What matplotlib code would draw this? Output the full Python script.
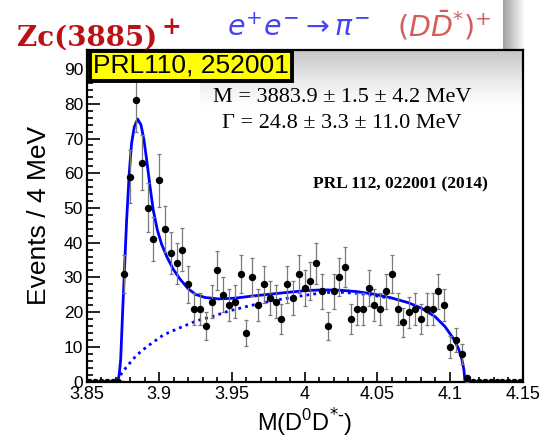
import numpy as np
import matplotlib
matplotlib.use("Agg")
import matplotlib.pyplot as plt
from matplotlib.ticker import MultipleLocator

plt.rcParams['font.family'] = ['Liberation Sans', 'DejaVu Sans']

W, H = 543, 438

# histogram: 4 MeV bins from 3.85 GeV
bin_lo = 3.85
bin_w = 0.004
counts = [0, 0, 0, 0, 0, 0,
          31, 59, 81, 63, 50, 41, 58, 44, 37, 34, 38, 28,
          21, 21, 16, 23, 32, 25, 22, 23, 31, 14, 30, 22,
          28, 24, 23, 18, 28, 24, 31, 27, 29, 34, 26, 16,
          26, 30, 33, 18, 21, 21, 27, 22, 21, 26, 31, 21,
          17, 20, 21, 18, 21, 21, 26, 22, 10, 12, 8, 1,
          0, 0, 0, 0, 0, 0, 0, 0, 0]

# fit curve
fit_x = [3.8715, 3.8725, 3.8735, 3.8749, 3.8762, 3.8776, 3.8794, 3.8810, 3.8829,
         3.8852, 3.8875, 3.8895, 3.8914, 3.8937, 3.8959, 3.8987, 3.9017, 3.9052,
         3.9097, 3.9143, 3.9200, 3.9250, 3.9315, 3.9407, 3.9521, 3.9636, 3.9750,
         3.9865, 4.0014, 4.0129, 4.0243, 4.0358, 4.0472, 4.0587, 4.0713, 4.0805,
         4.0897, 4.0966, 4.1023, 4.1057, 4.1080, 4.1096, 4.1103]
fit_y = [0, 2, 6.2, 20.6, 33, 46.5, 60, 68.6, 73.4,
         75.6, 73.9, 69.6, 63.8, 56.1, 49.4, 43.7, 39.5, 36.0,
         32.3, 29.5, 26.7, 25.1, 24.2, 23.8, 24.0, 24.6, 25.1,
         25.6, 26.2, 26.4, 26.3, 25.9, 25.2, 24.2, 22.7, 21.1,
         18.7, 15.8, 12.4, 9.6, 6.7, 3.3, 0]

# background (dotted)
bkg_x = [3.8715, 3.8742, 3.8777, 3.8845, 3.8914, 3.9028, 3.9143, 3.9258, 3.9372,
         3.9487, 3.9602, 3.9693, 3.9800, 3.9934, 4.0129, 4.0243, 4.0358, 4.0472, 4.0587]
bkg_y = [0, 2.4, 4.3, 7.6, 10.0, 13.4, 15.5, 17.5, 18.8,
         20.4, 21.6, 22.5, 23.4, 24.4, 25.6, 25.7, 25.4, 24.8, 24.0]

mass = bin_lo + bin_w * (np.arange(len(counts)) + 0.5)
err = np.sqrt(counts)

fig = plt.figure(figsize=(W / 100, H / 100), dpi=100)
ax = fig.add_axes([86.5 / W, 1 - 381.5 / H, (522.7 - 86.5) / W, (381.5 - 50) / H])

# shadow of the formula box over the top of the plot
shade = np.zeros((60, 2, 4))
shade[:, :, 3] = (np.linspace(0.32, 0, 60) ** 1.3)[:, None]
ax.imshow(shade, extent=(0.26, 1.0, 0.82, 1.0), transform=ax.transAxes,
          aspect='auto', zorder=0.5)

ax.plot(bkg_x, bkg_y, color='#0000ff', lw=2.0, ls=(0, (1, 1.5)), zorder=2)
ax.plot(fit_x, fit_y, color='#0000ff', lw=2.0, zorder=2.5)
ax.errorbar(mass, counts, yerr=err, fmt='o', color='black', ms=4.3,
            ecolor='#7a7a7a', elinewidth=0.9, capsize=1.3, capthick=0.9, zorder=3)

ax.set_xlim(3.85, 4.15)
ax.set_ylim(0, 95.5)
ax.xaxis.set_minor_locator(MultipleLocator(0.01))
ax.yaxis.set_major_locator(MultipleLocator(10))
ax.yaxis.set_minor_locator(MultipleLocator(2))
ax.set_xticks([3.85, 3.9, 3.95, 4.0, 4.05, 4.1, 4.15])
ax.set_xticklabels(['3.85', '3.9', '3.95', '4', '4.05', '4.1', '4.15'])
ax.tick_params(axis='x', which='major', direction='in', length=7.5, width=1.2,
               labelsize=13, pad=3)
ax.tick_params(axis='x', which='minor', direction='in', length=3.8, width=1.2)
ax.tick_params(axis='y', which='major', direction='in', length=9, width=1.2,
               labelsize=12.5, pad=2.5)
ax.tick_params(axis='y', which='minor', direction='in', length=4.5, width=1.2)
for s in ax.spines.values():
    s.set_linewidth(1.6)

# right shadow strip next to the formula box
sax = fig.add_axes([503 / W, 1 - 50 / H, 22 / W, 50 / H])
strip = np.zeros((2, 40, 4))
strip[:, :, 3] = np.linspace(0.38, 0, 40)[None, :]
sax.imshow(strip, aspect='auto', extent=(0, 1, 0, 1))
sax.axis('off')

fig.text(39 / W, 1 - 215 / H, 'Events / 4 MeV', rotation=90, fontsize=19,
         ha='center', va='center')
fig.text(304.6 / W, 1 - 432 / H, r'M(D$^{\mathregular{0}}$D$^{\text{*-}}$)',
         fontsize=17, ha='center', va='baseline')

fig.text(191 / W, 1 - 66 / H, 'PRL110, 252001', fontsize=19, ha='center', va='center',
         bbox=dict(boxstyle='square,pad=0.1', fc='#ffff00', ec='black', lw=2.8))

fig.text(17 / W, 1 - 46 / H, 'Zc(3885)', fontsize=20, family='DejaVu Serif',
         fontweight='bold', color='#bb1016', va='baseline')
fig.text(161 / W, 1 - 34 / H, '+', fontsize=17, family='DejaVu Serif',
         fontweight='bold', color='#bb1016', va='baseline')

fig.text(227 / W, 1 - 36 / H, r'$e^{+}e^{-}\rightarrow\pi^{-}$', fontsize=20.5,
         color='#4444f2', va='baseline')
fig.text(397 / W, 1 - 36 / H, r'$(D\bar{D}^{*})^{+}$', fontsize=20.5,
         color='#d45c5c', va='baseline')

fig.text(342 / W, 1 - 102 / H, 'M = 3883.9 ± 1.5 ± 4.2 MeV', family='Liberation Serif',
         fontsize=16, ha='center', va='baseline')
fig.text(342 / W, 1 - 128 / H, 'Γ = 24.8 ± 3.3 ± 11.0 MeV', family='Liberation Serif',
         fontsize=16, ha='center', va='baseline')
fig.text(488 / W, 1 - 188 / H, 'PRL 112, 022001 (2014)', family='Liberation Serif',
         fontweight='bold', fontsize=12.5, ha='right', va='baseline')

fig.savefig('out.png', dpi=100)
